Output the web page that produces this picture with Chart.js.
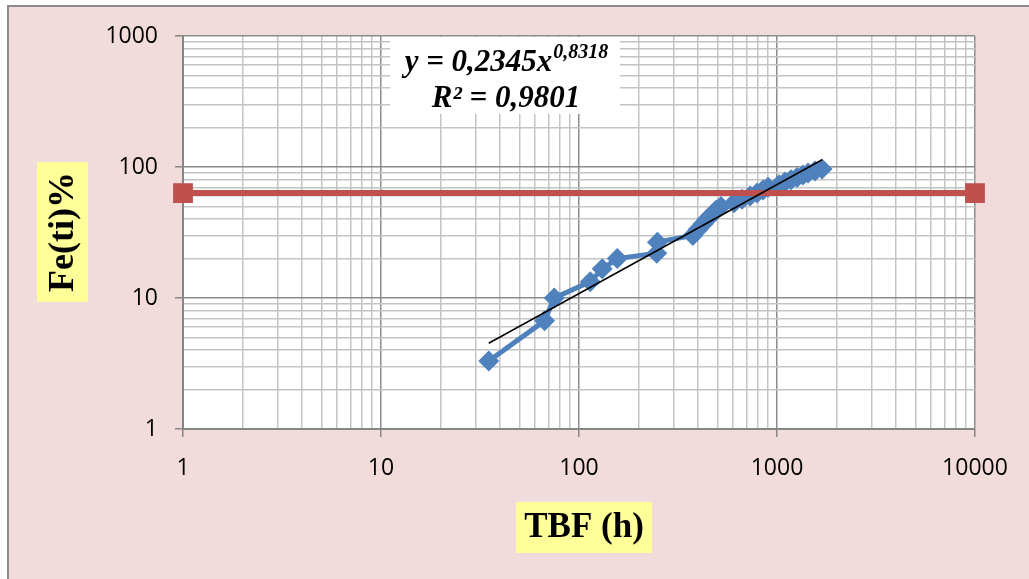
<!DOCTYPE html>
<html>
<head>
<meta charset="utf-8">
<script src="https://cdn.jsdelivr.net/npm/chart.js@4/dist/chart.umd.min.js"></script>
<style>
    html, body { margin: 0; padding: 0; background: #ffffff; }
    #contenedor { width: 1029px; height: 579px; position: relative; }
</style>
</head>
<body>
<div id="contenedor"><canvas id="grafico" width="1029" height="579"></canvas></div>
<script>
// Datos
const tbf = [35, 67, 75, 114, 131, 156, 247, 249, 376, 399, 423, 443, 470, 492, 521,
             607, 666, 731, 793, 850, 901, 1024, 1097, 1177, 1262, 1352, 1435, 1556, 1688];
const fe = [3.3, 6.7, 10, 13.3, 16.7, 20, 22, 26.7, 30, 33.3, 36.7, 40, 43.3, 46.7, 50,
            53.3, 56.7, 60, 63.3, 66.7, 70, 73.3, 76.7, 80, 83.3, 86.7, 90, 93.3, 96.7];

const limiteX = [1, 10000];
const limiteY = [63.2, 63.2];

// Tendencia potencial: y = a * x^b
const tendA = 0.2345;
const tendB = 0.8318;
const tendX = [35, 1690];

const ticksX = [1, 10, 100, 1000, 10000];
const ticksY = [1, 10, 100, 1000];

const esMayor = v => Math.abs(Math.log10(v) - Math.round(Math.log10(v))) < 1e-9;

const listaTicks = (min, max) => {
    const lista = [];
    for (let d = min; d < max; d *= 10) {
        for (let k = 1; k < 10; k++) lista.push({ value: d * k, major: k === 1 });
    }
    lista.push({ value: max, major: true });
    return lista;
};

const fondoYTitulos = {
    id: "fondoYTitulos",
    beforeDraw(chart) {
        const ctx = chart.ctx;
        const area = chart.chartArea;
        ctx.save();
        ctx.fillStyle = "#ffffff";
        ctx.fillRect(0, 0, chart.width, chart.height);
        ctx.fillStyle = "#F2DCDB";
        ctx.fillRect(8, 6, chart.width, chart.height);
        ctx.strokeStyle = "#8C8C8C";
        ctx.lineWidth = 2;
        ctx.beginPath();
        ctx.moveTo(8, chart.height + 2);
        ctx.lineTo(8, 6);
        ctx.lineTo(chart.width + 2, 6);
        ctx.stroke();
        ctx.fillStyle = "#ffffff";
        ctx.fillRect(area.left, area.top, area.right - area.left, area.bottom - area.top);
        ctx.restore();
    },
    afterDraw(chart) {
        const ctx = chart.ctx;
        ctx.save();

        // Título eje X
        ctx.fillStyle = "#FFFF99";
        ctx.fillRect(516, 502, 136, 51);
        ctx.fillStyle = "#000000";
        ctx.font = "bold 35px 'Liberation Serif'";
        ctx.textAlign = "center";
        ctx.textBaseline = "middle";
        ctx.fillText("TBF (h)", 584, 528);

        // Título eje Y
        ctx.fillStyle = "#FFFF99";
        ctx.fillRect(37, 162, 51, 140);
        ctx.translate(62, 232);
        ctx.rotate(-Math.PI / 2);
        ctx.fillStyle = "#000000";
        ctx.font = "bold 36px 'Liberation Serif'";
        ctx.fillText("Fe(ti)%", 0, 2);
        ctx.restore();

        // Cuadro de la ecuación
        ctx.save();
        ctx.fillStyle = "#ffffff";
        ctx.fillRect(390, 37, 230, 77);
        ctx.fillStyle = "#000000";
        ctx.textBaseline = "alphabetic";
        ctx.textAlign = "left";
        const fGrande = "italic bold 31px 'Liberation Serif'";
        const fChica = "italic bold 20px 'Liberation Serif'";
        const base = "y = " + String(tendA).replace(".", ",") + "x";
        const expo = String(tendB).replace(".", ",");
        ctx.font = fGrande;
        const w1 = ctx.measureText(base).width;
        ctx.font = fChica;
        const w2 = ctx.measureText(expo).width;
        let x0 = 506 - (w1 + w2) / 2;
        ctx.font = fGrande;
        ctx.fillText(base, x0, 71);
        ctx.font = fChica;
        ctx.fillText(expo, x0 + w1 + 1, 58);
        ctx.font = fGrande;
        ctx.textAlign = "center";
        ctx.fillText("R² = 0,9801", 506, 107);
        ctx.restore();
    }
};

const canvas = document.getElementById("grafico");

const opcionesEje = (min, max, etiquetas) => ({
    type: "logarithmic",
    min: min,
    max: max,
    afterBuildTicks: escala => {
        escala.ticks = listaTicks(min, max);
    },
    ticks: {
        autoSkip: false,
        maxRotation: 0,
        color: "#000000",
        font: { family: "'Open Sans'", size: 23 },
        callback: value => (etiquetas.includes(value) ? String(value) : "")
    },
    grid: {
        color: c => (c.tick && esMayor(c.tick.value) ? "#8C8C8C" : "#C4C4C4"),
        lineWidth: 1.5,
        tickLength: 8,
        tickColor: c => (c.tick && esMayor(c.tick.value) ? "#868686" : "rgba(0,0,0,0)")
    },
    border: { display: true, color: "#868686", width: 2 }
});

const ejeX = opcionesEje(1, 10000, ticksX);
ejeX.position = "bottom";
ejeX.ticks.padding = 18;
ejeX.afterFit = escala => { escala.height = 150; };

const ejeY = opcionesEje(1, 1000, ticksY);
ejeY.position = "left";
ejeY.ticks.padding = 17;
ejeY.afterFit = escala => { escala.width = 173; };

new Chart(canvas, {
    type: "line",
    data: {
        datasets: [
            {
                label: "Tendencia",
                data: tendX.map(x => ({ x: x, y: tendA * Math.pow(x, tendB) })),
                borderColor: "#000000",
                borderWidth: 1.5,
                pointRadius: 0,
                order: 0
            },
            {
                label: "Límite",
                data: limiteX.map((x, i) => ({ x: x, y: limiteY[i] })),
                borderColor: "#C0504D",
                backgroundColor: "#C0504D",
                borderWidth: 6,
                pointStyle: "rect",
                pointRadius: 14,
                pointBorderWidth: 0,
                clip: false,
                order: 1
            },
            {
                label: "Fe(ti)",
                data: tbf.map((x, i) => ({ x: x, y: fe[i] })),
                borderColor: "#4F81BD",
                backgroundColor: "#4F81BD",
                borderWidth: 5,
                pointStyle: "rectRot",
                pointRadius: 10.5,
                pointBorderWidth: 0,
                order: 2
            }
        ]
    },
    options: {
        responsive: false,
        animation: false,
        layout: { padding: { left: 10, top: 36, right: 54, bottom: 0 } },
        plugins: {
            legend: { display: false },
            tooltip: { enabled: false }
        },
        scales: {
            x: ejeX,
            y: ejeY
        }
    },
    plugins: [fondoYTitulos]
});
</script>
</body>
</html>
